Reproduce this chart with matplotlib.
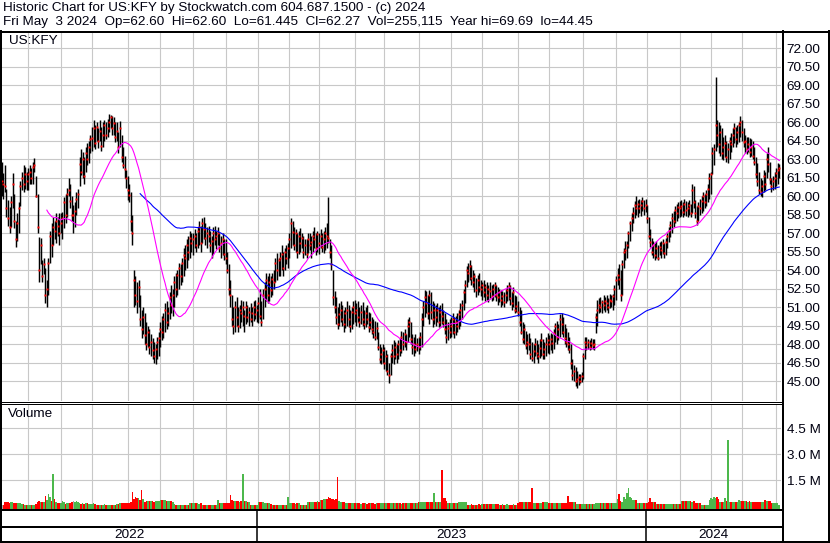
import numpy as np
import pandas as pd
import matplotlib
matplotlib.use("Agg")
import matplotlib.pyplot as plt
from matplotlib.lines import Line2D

plt.rcParams['font.family'] = ['Liberation Sans', 'DejaVu Sans']

# ---------------- data ----------------
TITLE1 = "Historic Chart for US:KFY by Stockwatch.com 604.687.1500 - (c) 2024"
TITLE2 = "Fri May  3 2024  Op=62.60  Hi=62.60  Lo=61.445  Cl=62.27  Vol=255,115  Year hi=69.69  lo=44.45"
SYMBOL = "US:KFY"

HOLIDAYS = ['2022-05-30', '2022-06-20', '2022-07-04', '2022-09-05', '2022-11-24', '2022-12-26',
            '2023-01-02', '2023-01-16', '2023-02-20', '2023-04-07', '2023-05-29', '2023-06-19',
            '2023-07-04', '2023-09-04', '2023-11-23', '2023-12-25',
            '2024-01-01', '2024-01-15', '2024-02-19', '2024-03-29']
START, END = '2022-05-06', '2024-05-03'

low = [
    60.0,59.8,60.3,58.3,57.6,57.0,57.5,59.0,57.4,55.9,56.4,57.0,59.2,60.5,60.3,60.6,60.5,
    60.5,61.0,61.0,61.0,62.0,59.9,57.0,53.0,54.5,53.0,53.7,51.3,51.0,52.0,54.6,55.1,56.0,56.5,56.2,56.8,56.0,
    57.0,56.5,57.4,57.8,58.3,60.0,59.0,58.0,57.0,57.5,58.5,59.0,60.8,61.7,61.5,61.0,62.0,62.5,62.7,63.5,
    63.7,64.0,63.8,64.5,63.9,64.5,63.7,64.0,64.5,64.6,64.8,65.2,65.5,65.0,65.0,64.4,64.5,63.5,64.0,62.8,62.3,61.5,60.7,
    59.7,59.5,57.2,56.0,51.0,51.2,50.5,51.0,49.5,48.5,48.8,48.0,47.5,47.8,47.2,47.0,46.8,46.5,46.4,46.8,47.0,
    47.8,48.3,48.5,49.0,49.2,49.5,50.0,50.5,50.3,51.0,51.8,52.0,52.5,52.8,53.0,53.5,54.0,54.2,54.8,55.0,55.5,
    55.2,55.8,55.5,55.8,56.0,55.5,56.2,56.5,56.0,55.8,56.3,55.5,55.0,55.3,56.0,55.7,56.0,55.5,55.0,55.2,54.8,
    54.5,53.8,52.0,51.0,49.5,48.8,49.0,49.5,49.0,49.3,49.8,49.5,49.0,49.6,49.8,49.5,49.8,49.5,49.9,50.0,49.8,
    49.7,50.0,49.5,50.0,51.0,51.5,51.3,51.5,51.8,52.0,52.5,53.0,53.2,53.5,53.5,54.0,53.5,54.0,54.5,54.2,
    55.0,55.8,56.0,55.6,55.5,55.0,55.3,55.5,55.8,55.0,55.2,55.0,55.4,55.6,55.0,55.5,55.8,55.2,55.5,
    55.3,55.8,55.5,55.4,55.6,55.8,56.2,55.0,54.0,51.2,50.5,49.6,49.2,49.5,49.8,49.5,49.0,49.3,49.5,49.4,49.0,49.2,49.6,
    49.8,49.5,49.8,49.4,49.6,49.5,49.2,49.4,49.6,49.0,49.2,48.8,48.5,48.3,48.4,47.5,46.5,46.4,46.5,
    46.0,45.8,45.5,44.8,45.5,46.5,46.4,46.8,46.5,46.8,47.0,47.3,47.5,47.8,47.5,48.2,48.6,48.0,47.2,47.0,47.3,47.4,
    47.2,47.5,47.8,49.5,50.2,50.5,50.0,49.6,50.0,49.4,49.6,49.5,49.8,49.4,49.5,49.6,49.4,48.8,48.1,48.3,48.5,
    48.6,48.8,48.5,48.7,49.0,49.2,49.5,50.0,50.8,51.3,52.6,53.0,53.2,52.8,52.6,52.2,51.8,52.0,52.2,51.9,
    51.6,51.8,51.5,51.6,51.4,51.7,51.5,51.6,51.8,51.5,51.2,51.4,51.0,51.2,51.0,51.3,51.5,51.6,51.2,50.8,51.0,50.5,50.6,
    50.3,49.5,48.8,48.1,48.0,47.6,47.2,47.5,46.8,46.6,46.5,47.0,46.8,46.5,46.9,47.0,46.8,46.8,47.0,47.3,
    47.2,47.5,47.3,47.6,48.2,48.0,48.3,48.6,48.8,48.6,48.0,47.8,47.5,47.3,46.0,45.1,45.0,44.6,44.45,44.7,44.8,44.9,
    45.2,46.8,47.5,47.6,47.5,47.6,47.6,47.5,48.9,49.5,50.5,50.6,50.5,50.8,50.6,50.8,50.5,50.9,51.0,50.8,51.2,
    51.6,52.8,52.5,51.5,52.0,54.2,54.8,55.0,55.8,56.4,57.2,57.8,58.2,58.5,58.3,58.6,58.4,58.8,58.5,58.7,
    57.8,56.5,55.9,55.2,55.0,54.8,55.0,54.8,55.2,55.0,55.3,55.0,55.2,55.8,56.3,56.7,57.0,57.5,57.8,58.0,58.2,
    58.3,58.4,58.3,58.5,58.4,58.3,58.5,58.3,58.6,59.0,58.2,57.7,58.0,58.5,58.6,58.8,59.0,59.2,59.5,59.8,
    60.2,61.8,62.5,63.7,64.0,63.5,63.3,63.0,62.9,63.2,62.8,62.7,63.0,63.6,64.0,64.3,64.0,64.2,64.4,64.8,
    64.5,64.0,63.5,63.4,63.6,63.2,63.3,63.0,62.5,61.5,60.8,60.2,60.0,59.9,60.3,60.5,61.5,62.0,61.0,60.3,60.5,60.6,
    60.8,61.0,61.445,
]

high = [
    62.8,61.9,62.5,60.6,59.7,59.1,60.0,61.9,60.2,58.0,58.6,59.5,61.2,62.0,62.5,62.4,62.0,
    62.3,62.5,62.3,62.8,63.1,61.6,60.2,56.7,56.6,54.8,55.0,54.2,53.2,55.0,57.2,57.8,58.3,58.0,58.6,58.3,58.6,
    58.6,58.7,59.9,60.2,60.7,61.5,61.0,60.0,59.3,59.5,60.3,60.6,63.2,63.8,63.6,63.2,64.0,64.3,64.5,65.0,
    65.6,66.2,65.8,66.0,65.5,66.2,65.6,66.0,66.2,66.0,66.3,66.7,66.6,66.5,66.4,66.0,66.0,65.2,66.1,65.0,64.0,63.3,62.1,
    61.6,61.0,60.3,58.5,54.0,53.5,53.0,53.2,52.0,50.8,51.0,50.5,49.8,49.5,49.2,48.8,48.5,48.2,48.0,48.6,49.0,
    49.8,50.3,50.5,51.3,51.5,51.0,52.2,52.8,52.5,53.5,53.8,54.0,54.6,54.5,55.0,55.8,56.0,56.5,56.8,57.2,57.0,
    57.0,57.3,57.0,57.5,58.0,57.6,58.2,58.3,57.8,57.5,57.6,57.2,56.8,57.5,57.6,57.2,57.5,57.0,56.8,57.0,56.5,
    56.5,55.5,54.5,53.2,52.0,51.0,51.5,51.8,51.0,51.2,51.6,51.5,50.8,51.5,51.2,51.0,51.3,51.0,51.5,51.6,51.2,
    51.8,52.5,51.5,52.5,53.0,53.8,53.5,53.8,53.5,53.8,54.0,55.0,55.4,55.0,55.5,56.0,55.5,55.8,56.0,56.2,
    57.0,58.2,58.0,57.5,57.3,57.0,57.2,57.4,57.0,56.8,56.5,56.5,57.0,57.0,56.8,57.2,57.5,57.0,57.2,
    57.0,57.3,57.0,57.2,57.5,57.8,59.9,56.5,56.0,54.0,52.3,51.8,51.0,51.3,51.5,51.2,50.8,51.0,51.5,51.2,50.8,51.0,51.5,
    51.6,51.3,51.5,51.0,51.2,51.4,50.8,51.0,51.2,50.6,50.5,50.2,50.0,49.9,49.8,49.0,48.0,47.8,48.0,
    47.8,47.5,47.2,46.5,47.3,48.0,48.3,48.2,48.0,48.3,48.5,49.1,49.0,49.2,48.8,50.0,50.2,49.8,48.8,48.6,48.8,48.5,
    48.6,49.0,50.5,51.5,52.4,52.3,52.0,52.4,52.2,51.5,51.3,51.2,51.3,51.0,51.2,51.3,50.8,50.5,50.0,49.8,50.0,
    50.2,50.5,50.2,50.3,50.5,50.8,51.3,51.6,52.5,53.2,54.3,54.6,54.8,54.4,54.0,53.8,53.4,53.6,53.8,53.2,
    53.0,53.2,52.9,53.0,52.8,53.0,52.8,52.9,53.0,52.8,52.6,52.5,52.4,52.3,52.2,52.5,52.8,53.0,52.8,52.2,52.6,52.0,51.9,
    51.5,51.0,50.8,49.8,49.6,49.1,48.8,48.9,48.5,48.2,48.0,48.5,48.3,48.0,48.4,48.9,48.4,48.2,48.6,48.9,
    48.7,48.9,48.8,49.2,49.7,49.9,49.6,50.4,50.5,50.2,49.6,49.3,49.0,48.6,48.0,46.8,46.3,46.1,45.8,45.6,45.6,45.7,
    47.3,48.6,48.6,48.4,48.3,48.5,48.4,48.4,50.5,51.6,51.7,51.8,51.6,52.0,51.8,52.0,51.7,52.1,52.0,52.1,52.8,
    53.5,54.2,54.5,54.0,54.8,55.8,56.4,56.4,57.2,58.0,58.6,59.1,59.6,60.0,59.7,59.8,59.7,59.9,59.7,59.8,
    59.3,58.3,57.3,56.6,56.4,56.2,56.4,56.0,56.3,56.4,56.5,56.2,56.6,57.0,57.5,58.0,58.6,58.8,59.2,59.4,59.5,
    59.6,59.7,59.5,59.8,59.6,59.5,59.7,59.4,61.0,60.8,59.7,59.2,59.5,59.8,60.0,60.3,60.2,60.5,61.0,61.9,
    62.0,64.0,64.2,69.69,66.2,66.0,65.8,65.5,64.8,65.0,64.5,64.3,64.8,65.1,65.5,65.9,65.6,65.8,66.0,66.5,
    66.2,65.5,65.0,64.8,64.8,64.7,64.6,64.5,64.0,63.2,62.7,62.0,61.5,61.3,62.1,62.0,63.5,64.0,62.8,61.5,61.6,62.0,
    62.3,62.7,62.60,
]

close = [
    61.2,61.0,60.8,59.0,58.2,57.5,59.5,61.0,58.0,56.5,57.8,59.0,60.8,61.5,61.0,61.8,61.2,
    61.8,62.0,61.5,62.4,62.5,60.0,57.5,54.0,56.0,53.5,54.5,52.0,52.5,54.6,56.8,56.0,57.5,57.2,58.0,57.6,57.0,
    57.8,58.2,59.5,58.5,60.2,60.5,59.6,58.5,58.5,58.8,59.8,60.2,62.6,62.0,63.0,61.6,63.5,63.0,64.0,64.6,
    64.7,65.5,64.3,65.6,64.5,65.3,64.1,65.0,65.8,65.0,65.5,66.0,66.4,65.5,65.9,64.8,65.3,64.0,65.5,63.2,62.5,62.2,61.5,
    60.5,60.1,58.0,57.0,53.2,52.0,51.5,52.6,50.0,49.2,50.2,48.7,48.0,49.0,47.8,48.2,47.5,47.0,47.6,48.2,48.5,
    49.2,49.0,50.0,50.8,49.8,50.5,51.8,51.2,52.0,53.0,52.5,53.6,54.2,53.5,54.6,55.2,55.0,56.0,55.5,56.6,56.2,
    56.5,56.8,56.0,57.2,57.5,56.2,57.8,57.3,56.6,57.0,56.8,56.0,56.4,57.0,56.5,56.8,57.0,55.8,56.2,56.5,55.3,
    55.0,54.0,52.5,52.0,50.0,49.5,51.0,50.2,49.5,50.8,50.5,51.0,50.3,51.0,50.2,50.6,50.0,50.5,51.0,50.4,50.8,
    51.3,50.3,49.8,52.0,52.5,53.2,52.0,53.0,52.4,53.3,53.0,54.6,54.0,54.8,55.0,55.3,54.2,55.5,55.0,55.8,
    56.5,57.8,57.1,56.0,57.0,55.5,56.8,56.2,56.6,55.5,56.0,55.3,56.5,56.0,56.3,56.8,56.5,55.8,56.9,
    56.2,56.8,55.9,56.5,57.0,56.8,56.6,55.5,54.5,51.8,51.0,50.2,49.6,50.4,50.8,50.0,49.6,50.5,50.8,50.0,49.5,50.6,51.0,
    50.5,50.8,50.2,49.8,50.6,50.0,49.6,50.5,50.0,49.4,49.8,49.2,49.0,48.6,49.3,47.8,46.8,47.2,47.5,
    46.5,47.0,45.8,45.5,47.0,47.5,47.0,47.8,47.2,48.0,47.5,48.6,48.0,48.8,48.2,49.5,49.8,48.4,47.8,48.0,47.6,48.0,
    47.8,48.6,50.0,51.0,51.8,51.3,50.5,52.0,50.6,50.0,50.8,50.2,50.8,49.8,50.6,50.3,49.8,49.2,48.6,49.3,49.0,
    49.5,50.0,49.0,49.8,49.5,50.4,50.8,51.2,52.2,52.8,54.0,53.8,54.3,53.4,53.0,53.5,52.4,53.2,52.6,52.5,
    52.8,52.2,52.6,52.0,52.5,52.3,51.9,52.5,52.8,52.0,51.8,52.2,51.6,51.9,51.4,52.0,52.4,52.7,51.7,51.3,52.2,50.8,51.1,
    50.6,49.8,49.0,48.4,49.2,47.9,48.2,48.0,47.2,46.9,47.4,48.0,47.3,47.0,47.7,48.3,47.2,47.6,48.0,48.3,
    48.0,48.4,48.1,48.9,49.5,48.6,49.2,50.0,49.6,49.0,48.5,48.2,48.0,47.6,46.5,45.5,45.8,45.0,45.2,45.3,45.0,45.4,
    47.0,48.2,47.9,48.2,47.8,48.1,47.9,48.0,50.2,50.8,51.2,51.0,51.4,51.2,51.5,51.3,51.0,51.6,51.5,51.9,52.5,
    53.2,53.6,53.3,52.0,54.5,55.5,55.6,56.0,57.0,57.8,58.2,58.6,59.3,59.0,59.4,59.0,59.3,59.6,59.0,59.3,
    58.2,56.8,56.3,55.5,56.0,55.2,55.8,55.0,55.9,55.6,56.2,55.4,56.3,56.8,57.2,57.7,58.2,58.0,58.9,58.6,59.1,
    59.0,59.2,58.7,59.4,58.9,59.0,59.3,58.6,60.5,59.5,58.6,58.0,59.2,59.0,59.6,60.0,59.5,60.2,60.6,61.5,
    61.8,63.5,63.8,65.8,65.0,64.2,65.2,63.5,64.0,64.3,63.2,63.8,64.5,64.2,65.0,65.5,64.6,65.2,65.8,66.0,
    65.2,64.4,64.5,63.8,64.2,63.6,64.0,63.3,62.8,61.8,61.2,60.5,60.3,60.8,61.6,61.0,63.0,62.6,61.4,60.8,61.2,61.5,
    61.9,62.1,62.27,
]

volume_k = [
    250,230,380,420,400,360,410,390,330,350,340,360,350,300,280,240,230,
    230,250,240,230,260,300,420,450,400,380,420,760,500,850,700,450,2000,560,380,350,340,
    330,450,400,300,330,320,340,430,450,420,440,400,320,310,330,300,320,330,300,310,
    300,320,280,250,240,260,230,250,270,240,230,260,250,240,230,250,270,300,350,340,360,330,350,
    330,350,380,1000,560,710,620,650,520,1100,600,420,450,470,440,460,450,430,470,480,450,
    520,500,530,510,480,450,460,440,420,300,250,230,240,260,230,240,250,230,260,330,320,
    330,320,340,330,300,330,240,230,250,230,240,220,230,250,240,230,520,330,320,340,330,
    330,340,330,800,500,470,460,440,450,430,460,2000,450,440,430,420,240,230,240,230,250,
    420,430,400,420,330,340,320,330,300,230,240,230,220,250,230,240,230,250,240,700,
    330,340,320,330,310,330,320,240,230,250,230,240,420,430,410,420,400,430,450,
    420,500,520,580,560,600,700,650,600,580,520,560,1850,450,420,430,410,330,340,320,330,340,330,
    330,340,320,330,310,330,340,320,300,330,320,340,330,310,320,330,350,340,330,
    340,350,330,360,340,330,320,330,340,320,330,310,330,340,320,330,350,330,320,340,330,350,
    390,380,400,390,380,400,390,380,400,390,940,400,380,390,390,2250,640,620,450,330,340,
    330,320,340,330,320,420,430,410,420,430,420,260,250,270,260,250,240,260,270,250,
    290,280,300,290,270,280,300,290,280,290,270,260,250,270,260,250,270,260,250,260,270,260,250,
    330,390,400,380,390,400,380,420,400,1230,330,320,330,340,320,330,420,430,410,420,
    330,340,320,330,340,330,320,340,330,320,330,340,770,420,430,410,420,400,300,290,310,300,
    300,290,310,300,280,300,290,300,330,340,320,330,340,320,330,340,320,330,340,330,320,
    330,577,885,450,420,712,600,940,1230,700,615,520,530,510,330,340,320,330,340,330,
    330,420,650,430,420,410,300,290,280,300,290,280,300,290,300,280,290,300,290,280,300,
    300,450,460,440,450,460,440,450,430,450,330,320,340,330,250,230,240,250,260,520,
    615,560,712,650,712,577,390,400,390,615,450,3980,390,380,400,390,380,390,520,450,
    450,460,440,450,430,460,390,400,380,390,400,380,390,400,390,520,450,440,460,330,340,320,
    330,320,255,
]

price_ticks = [45.0, 46.5, 48.0, 49.5, 51.0, 52.5, 54.0, 55.5, 57.0, 58.5, 60.0,
               61.5, 63.0, 64.5, 66.0, 67.5, 69.0, 70.5, 72.0]
volume_ticks_m = [1.5, 3.0, 4.5]
MA_SHORT, MA_LONG = 30, 90

# ---------------- derived ----------------
dates = pd.bdate_range(START, END, freq='C', holidays=HOLIDAYS)
n = len(dates)
assert len(low) == len(high) == len(close) == len(volume_k) == n, (len(low), len(high), len(close), len(volume_k), n)
low = np.array(low); high = np.array(high); close = np.array(close)
vol = np.array(volume_k) * 1000.0
x = np.arange(n)

ma_s = pd.Series(close).rolling(MA_SHORT).mean()
ma_l = pd.Series(close).rolling(MA_LONG).mean()

prev = np.r_[close[0], close[:-1]]
vcol = np.where(close > prev, '#4cb84c', np.where(close < prev, '#ff0000', '#a8a8a8'))

months = dates.year * 12 + dates.month
month_starts = np.flatnonzero(np.diff(months) != 0) + 1
year_starts = np.flatnonzero(np.diff(dates.year) != 0) + 1

# ---------------- figure / layout ----------------
W, H = 830, 543
fig = plt.figure(figsize=(W / 100, H / 100), dpi=100)
fig.patch.set_facecolor('white')

def box(x0, y0, x1, y1):
    return [x0 / W, 1 - y1 / H, (x1 - x0) / W, (y1 - y0) / H]

PLOT_L, PLOT_R = 2, 781
axp = fig.add_axes(box(PLOT_L, 33, PLOT_R, 401))
axv = fig.add_axes(box(PLOT_L, 404, PLOT_R, 509))
axd = fig.add_axes(box(PLOT_L, 510, PLOT_R, 541))

PX_PER_BAR = 1.555
X0 = 0.15
X1 = X0 + (PLOT_R - PLOT_L) / PX_PER_BAR
GRID = '#c8c8c8'
TXT = '#000010'
FS = 9.7

for ax in (axp, axv, axd):
    ax.set_xlim(X0, X1)
    for s in ax.spines.values():
        s.set_visible(False)
    ax.set_xticks([])
    ax.set_facecolor('white')

# price panel
axp.set_ylim(43.38, 73.24)
for m in month_starts:
    axp.axvline(m, color=GRID, lw=0.8, zorder=0)
for t in price_ticks:
    axp.axhline(t, color=GRID, lw=0.8, zorder=0)
axp.vlines(x, low, high, color='black', lw=1.05, antialiased=True, zorder=2)
axp.plot(x, close, 's', color='#ff0000', ms=1.4, mew=0, zorder=3)
axp.plot(x, ma_l, color='#0000ff', lw=0.8, zorder=4)
axp.plot(x, ma_s, color='#ff00ff', lw=0.8, zorder=4)
axp.yaxis.tick_right()
axp.set_yticks(price_ticks)
axp.set_yticklabels([f'{t:.2f}' for t in price_ticks], fontsize=FS, color=TXT)
axp.tick_params(axis='y', length=0, pad=4)
axp.text(7 / (PLOT_R - PLOT_L), 1 - 8 / 368, SYMBOL, transform=axp.transAxes,
         fontsize=FS, color=TXT, va='center', ha='left')

# volume panel
VSCALE = 1.5e6 / 25.85  # shares per pixel
vlo = -3.0 * VSCALE
vhi = 4.5e6 + 24.3 * VSCALE
axv.set_ylim(vlo, vhi)
for m in month_starts:
    axv.axvline(m, color=GRID, lw=0.8, zorder=0)
for t in volume_ticks_m:
    axv.axhline(t * 1e6, color=GRID, lw=0.8, zorder=0)
axv.bar(x, vol, bottom=vlo, width=1.0, color=vcol, linewidth=0, antialiased=False, zorder=2)
axv.yaxis.tick_right()
axv.set_yticks([t * 1e6 for t in volume_ticks_m])
axv.set_yticklabels([f'{t:.1f} M' for t in volume_ticks_m], fontsize=FS, color=TXT)
axv.tick_params(axis='y', length=0, pad=4)
axv.text(6 / (PLOT_R - PLOT_L), 1 - 10 / 105, 'Volume', transform=axv.transAxes,
         fontsize=FS, color=TXT, va='center', ha='left')

# date panel
axd.set_ylim(0, 1)
axd.set_yticks([])
for ys in year_starts:
    axd.axvline(ys - 0.8, color='black', lw=1.1)
bounds = [X0] + [ys - 0.8 for ys in year_starts] + [X1]
for k in range(len(bounds) - 1):
    yr = dates.year[0] + k
    axd.text((bounds[k] + bounds[k + 1]) / 2, 0.2, str(yr), ha='center', va='center',
             fontsize=FS, color=TXT)

# frame lines (pixel coordinates)
def hline(y, x0, x1, w):
    fig.add_artist(Line2D([x0 / W, x1 / W], [1 - y / H, 1 - y / H], color='black', lw=w * 0.72))

def vline(xp, y0, y1, w):
    fig.add_artist(Line2D([xp / W, xp / W], [1 - y0 / H, 1 - y1 / H], color='black', lw=w * 0.72))

hline(31.5, 0, W, 2)
hline(401.5, 0, 782, 1)
hline(403.5, 0, 782, 1)
hline(509.8, 0, 782, 2)
hline(526.8, 0, 782, 2)
hline(542, 0, W, 2)
vline(1, 31, H, 2)
vline(782.5, 31, H, 2)
vline(829, 31, H, 2)

# header text
fig.text(3 / W, 1 - 7.5 / H, TITLE1, fontsize=FS, color=TXT, va='center', ha='left')
fig.text(3 / W, 1 - 22 / H, TITLE2, fontsize=FS, color=TXT, va='center', ha='left')

fig.savefig('out.png', dpi=100, facecolor='white')
